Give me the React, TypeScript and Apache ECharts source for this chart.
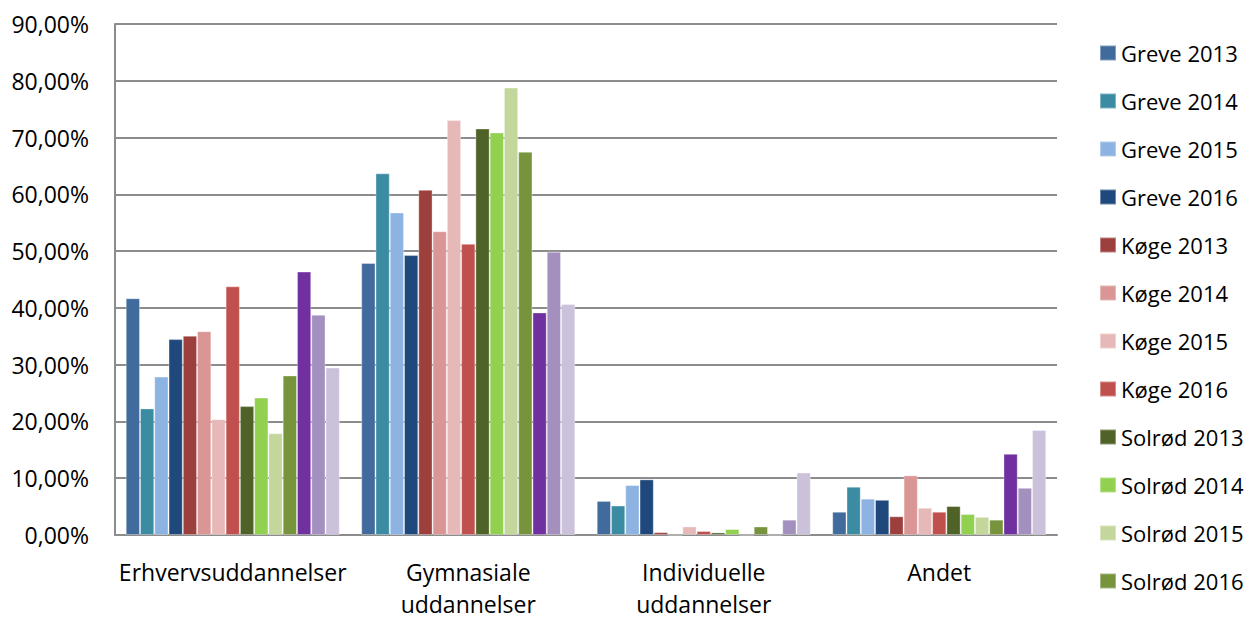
import React, { useEffect, useRef } from "react";
import * as echarts from "echarts";

const categories = ["Erhvervsuddannelser", "Gymnasiale\nuddannelser", "Individuelle\nuddannelser", "Andet"];

const seriesNames = [
  "Greve 2013", "Greve 2014", "Greve 2015", "Greve 2016",
  "Køge 2013", "Køge 2014", "Køge 2015", "Køge 2016",
  "Solrød 2013", "Solrød 2014", "Solrød 2015", "Solrød 2016",
  "Region Sjælland 2014", "Region Sjælland 2015", "Region Sjælland 2016",
];

const legendNames = seriesNames.slice(0, 12);

// values in percent, per series: [Erhverv, Gymnasiale, Individuelle, Andet]
const greve2013 = [41.7, 47.9, 6.0, 4.1];
const greve2014 = [22.3, 63.7, 5.2, 8.5];
const greve2015 = [27.9, 56.8, 8.8, 6.4];
const greve2016 = [34.5, 49.3, 9.8, 6.2];
const koege2013 = [35.1, 60.8, 0.5, 3.3];
const koege2014 = [35.9, 53.5, 0, 10.5];
const koege2015 = [20.4, 73.1, 1.5, 4.8];
const koege2016 = [43.8, 51.3, 0.7, 4.1];
const solroed2013 = [22.7, 71.6, 0.45, 5.1];
const solroed2014 = [24.2, 70.9, 1.05, 3.7];
const solroed2015 = [17.9, 78.8, 0, 3.2];
const solroed2016 = [28.1, 67.5, 1.5, 2.7];
const region2014 = [46.4, 39.2, 0, 14.3];
const region2015 = [38.8, 49.9, 2.7, 8.3];
const region2016 = [29.5, 40.7, 11.0, 18.5];

const seriesValues = [
  greve2013, greve2014, greve2015, greve2016,
  koege2013, koege2014, koege2015, koege2016,
  solroed2013, solroed2014, solroed2015, solroed2016,
  region2014, region2015, region2016,
];

const colors = [
  "#416b9c", "#3b8ca3", "#8db3e2", "#1f497d",
  "#9c3f3d", "#d99694", "#e6b9b8", "#c0504d",
  "#4f6228", "#92d050", "#c3d69b", "#77933c",
  "#7030a0", "#a390bf", "#ccc1da",
];

const FONT = "'Open Sans', 'Noto Sans', sans-serif";

export default function App() {
  const ref = useRef<HTMLDivElement>(null);
  useEffect(() => {
    if (!ref.current) return;
    const chart = echarts.init(ref.current, undefined, { renderer: "svg" });
    chart.setOption({
      animation: false,
      backgroundColor: "#ffffff",
      color: colors,
      textStyle: { fontFamily: FONT },
      grid: { left: 115, right: 193, top: 24, bottom: 69 },
      legend: {
        data: legendNames,
        orient: "vertical",
        left: 1099,
        top: 41,
        padding: 0,
        icon: "rect",
        itemWidth: 16,
        itemHeight: 15,
        itemGap: 24,
        textStyle: { fontFamily: FONT, fontSize: 22, color: "#000", lineHeight: 24 },
      },
      xAxis: {
        type: "category",
        data: categories,
        axisLine: { lineStyle: { color: "#8c8c8c", width: 2 } },
        axisTick: { show: false },
        axisLabel: {
          color: "#000",
          fontSize: 23,
          fontFamily: FONT,
          lineHeight: 32,
          margin: 21,
          interval: 0,
        },
      },
      yAxis: {
        type: "value",
        min: 0,
        max: 90,
        interval: 10,
        axisLine: { show: true, lineStyle: { color: "#8c8c8c", width: 2 } },
        axisTick: { show: false },
        splitLine: { lineStyle: { color: "#8c8c8c", width: 2 } },
        axisLabel: {
          color: "#000",
          fontSize: 23,
          fontFamily: FONT,
          margin: 26,
          formatter: (v: number) => v.toFixed(2).replace(".", ",") + "%",
        },
      },
      series: seriesNames.map((name, i) => ({
        name,
        type: "bar",
        data: seriesValues[i],
        barGap: "0%",
        barCategoryGap: "9.1%",
        itemStyle: { color: colors[i], borderColor: "rgba(255,255,255,0.35)", borderWidth: 1 },
      })),
    });
    return () => chart.dispose();
  }, []);
  return (
    <div
      ref={ref}
      style={{ position: "fixed", left: 0, top: 0, width: 1250, height: 620 }}
    />
  );
}
